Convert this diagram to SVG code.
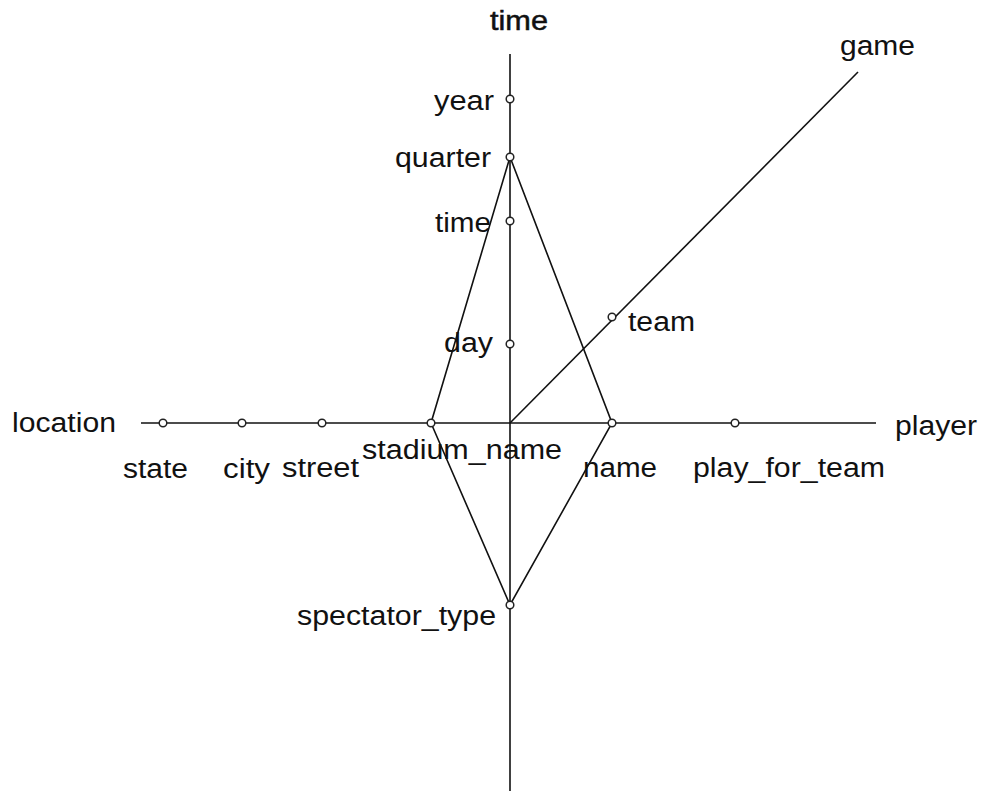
<svg xmlns="http://www.w3.org/2000/svg" width="982" height="791" viewBox="0 0 982 791">
<style>
.ax{stroke:#111;stroke-width:1.6;fill:none}
.pt{fill:#fff;stroke:#222;stroke-width:1.5}
text{font-family:"Liberation Sans",Arial,sans-serif;font-size:27px;fill:#111}
.hd{stroke:#111;stroke-width:0.5}
</style>
<rect width="982" height="791" fill="#fff"/>
<g id="connectors">
<line class="ax" x1="510" y1="54" x2="510" y2="791"/>
<line class="ax" x1="141" y1="423" x2="876" y2="423"/>
<line class="ax" x1="510" y1="423" x2="858" y2="72"/>
<polygon class="ax" points="510,157 431,423 510,605 612,423"/>
</g>
<g id="axis-time"><text class="hd" x="490" y="30" textLength="58" lengthAdjust="spacingAndGlyphs">time</text></g>
<g id="axis-location"><text x="12" y="432" textLength="104" lengthAdjust="spacingAndGlyphs">location</text></g>
<g id="axis-player"><text x="895" y="435" textLength="82" lengthAdjust="spacingAndGlyphs">player</text></g>
<g id="axis-game"><text x="840" y="55" textLength="75" lengthAdjust="spacingAndGlyphs">game</text></g>
<g id="year"><circle class="pt" cx="510" cy="99" r="3.8"/><text x="434" y="110" textLength="60" lengthAdjust="spacingAndGlyphs">year</text></g>
<g id="quarter"><circle class="pt" cx="510" cy="157" r="3.8"/><text x="395" y="167" textLength="96" lengthAdjust="spacingAndGlyphs">quarter</text></g>
<g id="time"><circle class="pt" cx="510" cy="221" r="3.8"/><text x="435" y="232" textLength="56" lengthAdjust="spacingAndGlyphs">time</text></g>
<g id="day"><circle class="pt" cx="510" cy="344" r="3.8"/><text x="444" y="352" textLength="49" lengthAdjust="spacingAndGlyphs">day</text></g>
<g id="state"><circle class="pt" cx="163" cy="423" r="3.8"/><text x="123" y="478" textLength="65" lengthAdjust="spacingAndGlyphs">state</text></g>
<g id="city"><circle class="pt" cx="242" cy="423" r="3.8"/><text x="223" y="478" textLength="47" lengthAdjust="spacingAndGlyphs">city</text></g>
<g id="street"><circle class="pt" cx="322" cy="423" r="3.8"/><text x="282" y="477" textLength="77" lengthAdjust="spacingAndGlyphs">street</text></g>
<g id="stadium_name"><circle class="pt" cx="431" cy="423" r="3.8"/><text x="362" y="459" textLength="200" lengthAdjust="spacingAndGlyphs">stadium_name</text></g>
<g id="name"><circle class="pt" cx="612" cy="423" r="3.8"/><text x="583" y="477" textLength="74" lengthAdjust="spacingAndGlyphs">name</text></g>
<g id="play_for_team"><circle class="pt" cx="735" cy="423" r="3.8"/><text x="693" y="477" textLength="192" lengthAdjust="spacingAndGlyphs">play_for_team</text></g>
<g id="team"><circle class="pt" cx="612" cy="317" r="3.8"/><text x="628" y="331" textLength="67" lengthAdjust="spacingAndGlyphs">team</text></g>
<g id="spectator_type"><circle class="pt" cx="510" cy="605" r="3.8"/><text x="297" y="625" textLength="199" lengthAdjust="spacingAndGlyphs">spectator_type</text></g>
</svg>
